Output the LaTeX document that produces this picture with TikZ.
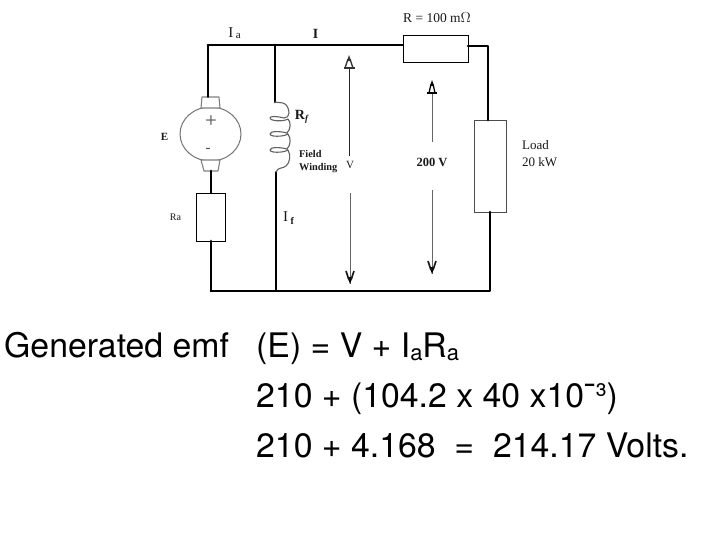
\documentclass[tikz,border=0pt]{standalone}
\usetikzlibrary{shapes.geometric}
\usepackage{fontspec}
\setmainfont{Liberation Serif}
\newfontfamily\heros{TeX Gyre Heros}
\begin{document}
\begin{tikzpicture}[x=1pt,y=-1pt,
  wirethin/.style={line width=1.7pt,black,line cap=round,line join=round},
  wirethick/.style={line width=2.9pt,black,line cap=round,line join=round},
  resbox/.style={draw=black,fill=white,line width=.8pt,minimum width=#1,inner sep=0pt,outer sep=0pt},
  brush/.style={draw=black!50,fill=white,line width=1.1pt,line join=round},
  lbl/.style={inner sep=0pt,font=\fontsize{11}{12}\selectfont,text=black!90},
  lblb/.style={inner sep=0pt,font=\fontsize{10.3}{11}\selectfont\bfseries,text=black!90,anchor=base west},
  eq/.style={inner sep=0pt,anchor=base west,font=\heros\fontsize{33.8}{36}\selectfont},
  vline/.style={line width=.8pt,black!60},
  vlineb/.style={line width=.8pt,black!85},
  coilline/.style={line width=1.1pt,black!62,line cap=round,line join=round},
]
\useasboundingbox (0,0) rectangle (728,546);
\fill[white] (0,0) rectangle (728,546);

% points
\coordinate (tl) at (208,45);
\coordinate (tj) at (275,45);
\coordinate (tm) at (363,45);
\coordinate (tr) at (488,46);
\coordinate (bl) at (211,291);
\coordinate (bj) at (276,291);
\coordinate (br) at (490,291);
\coordinate (coiltop) at (275,102);
\coordinate (coilbot) at (276,172);
\coordinate (btop) at (208,97);
\coordinate (bbot) at (211,171);

% series resistor, load, armature resistance
\node[resbox=65pt,minimum height=27pt] (rs) at (435.5,48.5) {};
\node[resbox=32pt,minimum height=92pt,draw=black!70] (load) at (490,166) {};
\node[resbox=29.5pt,minimum height=48pt] (ra) at (211,217) {};

% armature
\node[ellipse,draw=black!55,fill=white,line width=1pt,minimum width=61pt,minimum height=54pt,inner sep=0pt,outer sep=0pt] (arm) at (210.5,134) {};
\draw[brush] (202,97) -- (219,97) -- (220,108) -- (201,108) -- cycle;
\draw[brush] (201,160) -- (220,160) -- (218,171) -- (204,171) -- cycle;

% wires
\draw[wirethick] (tl) -- (tm);
\draw[wirethin] (tm) -- (rs.west |- tm);
\draw[wirethin] (tl) -- (btop);
\draw[wirethick] (tj) -- (coiltop);
\draw[wirethick] (rs.east |- tr) -- (tr) -- (load.north -| tr);
\draw[wirethick] (load.south -| br) -- (br) -- (bl);
\draw[wirethick] (bl) -- (ra.south);
\draw[wirethick] (ra.north) -- (bbot);
\draw[wirethin,line width=1.9pt] (coilbot) -- (bj);

% field coil
\draw[coilline] (coiltop) -- (283,103) .. controls (287,104) and (289,109) .. (289,113)
  .. controls (289,116) and (287,118) .. (284,118)
  .. controls (276,116) and (270,116) .. (270,118)
  .. controls (270,121) and (283,122) .. (288,119)
  .. controls (291,122) and (291,129) .. (287,133)
  .. controls (280,131) and (270,131) .. (270,134)
  .. controls (270,137) and (283,137) .. (288,134)
  .. controls (291,138) and (291,145) .. (287,149)
  .. controls (280,147) and (270,147) .. (270,150)
  .. controls (270,153) and (283,153) .. (288,150)
  .. controls (291,155) and (290,163) .. (286,166)
  .. controls (282,169) and (278,167) .. (coilbot);

% voltage arrows
\coordinate (va1) at (349,68); \coordinate (va2) at (349,156);
\coordinate (va3) at (350,193); \coordinate (va4) at (350,284);
\coordinate (wa1) at (432,93); \coordinate (wa2) at (432,142);
\coordinate (wa3) at (432,190); \coordinate (wa4) at (432,274);
\draw[vlineb] (va1) -- (va2);
\draw[vline] (va3) -- (va4);
\draw[vline] (wa1) -- (wa2);
\draw[vline] (wa3) -- (wa4);
% arrowheads
\foreach \x/\y/\wd/\bw/\c in {349/55/4/5.5/black!80,432/80/3/5/black} {
  \fill[\c] (\x,\y) -- (\x+2,\y+6) -- (\x-2,\y+6) -- cycle;
  \draw[\c,line width=1.3pt] (\x-1,\y+4) -- (\x-\wd,\y+13) (\x+1,\y+4) -- (\x+\wd,\y+13);
  \draw[\c,line width=1.5pt] (\x-\bw,\y+13) -- (\x+\bw,\y+13);
}
\foreach \x/\y in {350/284,432/274} {
  \fill[black] (\x,\y) -- (\x+2.5,\y-7) -- (\x-2.5,\y-7) -- cycle;
  \draw[black!90,line width=1.7pt] (\x-1,\y-4) -- (\x-4,\y-13) (\x+1,\y-4) -- (\x+4,\y-13);
}

% labels
\node[lbl,font=\fontsize{15}{16}\selectfont] (ia) at (234.5,33) {I\,\raisebox{-.5pt}{\fontsize{11}{12}\selectfont a}};
\node[lbl,font=\fontsize{14}{15}\selectfont\bfseries] (i) at (315.5,34) {I};
\node[lbl,font=\fontsize{13.5}{15}\selectfont] (rl) at (437,18) {R = 100 m$\Omega$};
\node[lbl,font=\fontsize{14}{15}\selectfont\bfseries] (rf) at (301.5,117) {R\raisebox{-2pt}{\fontsize{9}{10}\selectfont\itshape f}};
\node[lbl,font=\fontsize{11}{12}\selectfont\bfseries] (e) at (164.5,137) {E};
\node[lbl,font=\fontsize{21}{22}\selectfont,text=black!70] (pl) at (211,122) {+};
\node[lbl,font=\fontsize{15}{16}\selectfont,text=black!70] (mi) at (208,150) {-};
\node[lblb] (fw1) at (299,157) {Field};
\node[lblb] (fw2) at (299,170) {Winding};
\node[lbl] (v) at (350,165) {V};
\node[lbl,font=\fontsize{12.5}{14}\selectfont\bfseries] (v200) at (432,162) {200 V};
\node[lbl,anchor=base west,font=\fontsize{13}{14}\selectfont] (ld) at (522,149) {Load};
\node[lbl,anchor=base west,font=\fontsize{13}{14}\selectfont] (kw) at (522,166) {20 kW};
\node[lbl,font=\fontsize{10}{11}\selectfont] (ral) at (175.5,217) {Ra};
\node[lbl,font=\fontsize{15}{16}\selectfont] (if) at (288.5,218) {I\raisebox{-3pt}{\,\fontsize{10}{11}\selectfont\bfseries f}};

% equations
\node[eq] (e0) at (4,357) {Generated emf};
\node[eq] (e1) at (256,357) {(E) = V + I\raisebox{-3pt}{\fontsize{22}{23}\selectfont a}R\raisebox{-3pt}{\fontsize{22}{23}\selectfont a}};
\node[eq] (e2) at (256,407) {210 + (104.2 x 40 x10¯³)};
\node[eq] (e3) at (256,457) {210 + 4.168 \ = \ 214.17 Volts.};
\end{tikzpicture}
\end{document}
